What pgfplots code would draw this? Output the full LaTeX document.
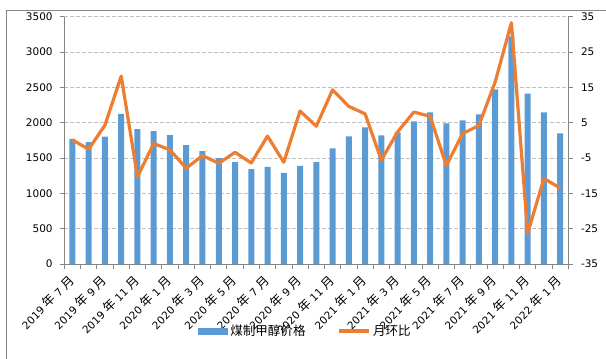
\documentclass[border=0pt]{standalone}
\usepackage{fontspec}
\setmainfont{DejaVu Sans}
\newfontfamily\cjk[Scale=1.2]{Noto Sans CJK SC}
\usepackage{pgfplots}
\pgfplotsset{compat=1.18}
\definecolor{barblue}{HTML}{5B9BD5}
\definecolor{lineor}{HTML}{ED7D31}
\definecolor{axgray}{HTML}{868686}
\definecolor{gridgray}{HTML}{BFBFBF}
\newcommand{\N}{{\cjk 年}}
\newcommand{\Y}{{\cjk 月}}
\pgfplotstableread{
x price mom
0 1770 0.1
1 1726 -2.5
2 1802 4.3
3 2123 18.2
4 1910 -10.3
5 1882 -0.9
6 1825 -2.7
7 1684 -7.9
8 1599 -4.3
9 1500 -6.5
10 1443 -3.4
11 1344 -6.4
12 1373 1.2
13 1288 -6.2
14 1387 8.3
15 1443 4.0
16 1637 14.3
17 1806 9.6
18 1933 7.5
19 1821 -5.6
20 1863 2.4
21 2018 8.0
22 2145 6.8
23 1990 -7.1
24 2032 1.9
25 2117 4.2
26 2470 16.5
27 3220 33.3
28 2413 -26.3
29 2145 -10.8
30 1849 -13.5
}\datatable
\begin{document}
\begin{tikzpicture}
\path[use as bounding box] (0bp,0bp) rectangle (606bp,359bp);
\draw[axgray, line width=0.8bp] (6bp,0bp) -- (6bp,349bp) -- (606bp,349bp);
\begin{axis}[
  at={(64.3bp,95bp)}, anchor=south west,
  width=504bp, height=247.3bp, scale only axis,
  xmin=-0.5, xmax=30.5, ymin=0, ymax=3500,
  axis x line*=bottom, axis y line*=left,
  axis line style={axgray, line width=0.8bp, -},
  ytick={0,500,...,3500},
  xtick={0,2,...,30},
  xticklabels={2019 \N{} 7 \Y, 2019 \N{} 9 \Y, 2019 \N{} 11 \Y, 2020 \N{} 1 \Y, 2020 \N{} 3 \Y, 2020 \N{} 5 \Y, 2020 \N{} 7 \Y, 2020 \N{} 9 \Y, 2020 \N{} 11 \Y, 2021 \N{} 1 \Y, 2021 \N{} 3 \Y, 2021 \N{} 5 \Y, 2021 \N{} 7 \Y, 2021 \N{} 9 \Y, 2021 \N{} 11 \Y, 2022 \N{} 1 \Y},
  minor xtick={-0.5,0.5,...,30.5},
  tick align=outside,
  major tick length=4.5bp, minor tick length=5bp,
  tick style={axgray, line width=0.8bp},
  major x tick style={draw=none},
  ymajorgrids,
  major grid style={gridgray, line width=0.7bp, dash pattern=on 4bp off 2bp},
  /pgf/number format/assume math mode=true,
  /pgf/number format/1000 sep={},
  yticklabel style={font=\fontsize{10.5}{12}\selectfont, inner sep=1bp, xshift=-6bp},
  xticklabel shift=9bp,
  xticklabel style={font=\fontsize{10.5}{12}\selectfont, rotate=45, anchor=east, inner sep=1bp},
  legend style={at={(0.4786,-0.271)}, anchor=center, draw=none, fill=none,
    legend columns=2, font=\fontsize{10.5}{12}\selectfont\cjk,
    /tikz/every even column/.append style={column sep=30bp}},
  clip=false,
]
\addplot[ybar, bar width=6bp, fill=barblue, draw=none,
  legend image code/.code={\fill[barblue] (0bp,-3.5bp) rectangle (30bp,3.5bp);}]
  table[x=x, y=price] {\datatable};
\addlegendentry{煤制甲醇价格}
\addlegendimage{legend image code/.code={\draw[lineor, line width=3.5bp] (0bp,0bp) -- (30bp,0bp);}}
\addlegendentry{月环比}
\end{axis}
\begin{axis}[
  at={(64.3bp,95bp)}, anchor=south west,
  width=504bp, height=247.3bp, scale only axis,
  xmin=-0.5, xmax=30.5, ymin=-35, ymax=35,
  axis x line=none, axis y line*=right,
  axis line style={axgray, line width=0.8bp, -},
  ytick={-35,-25,...,35},
  tick align=outside,
  major tick length=4.5bp,
  tick style={axgray, line width=0.8bp},
  /pgf/number format/assume math mode=true,
  yticklabel style={font=\fontsize{10.5}{12}\selectfont, inner sep=1bp, xshift=7bp, anchor=west},
  clip=false,
]
\addplot[lineor, line width=3.2bp, line join=round, mark=none] table[x=x, y=mom] {\datatable};
\end{axis}
\end{tikzpicture}
\end{document}
